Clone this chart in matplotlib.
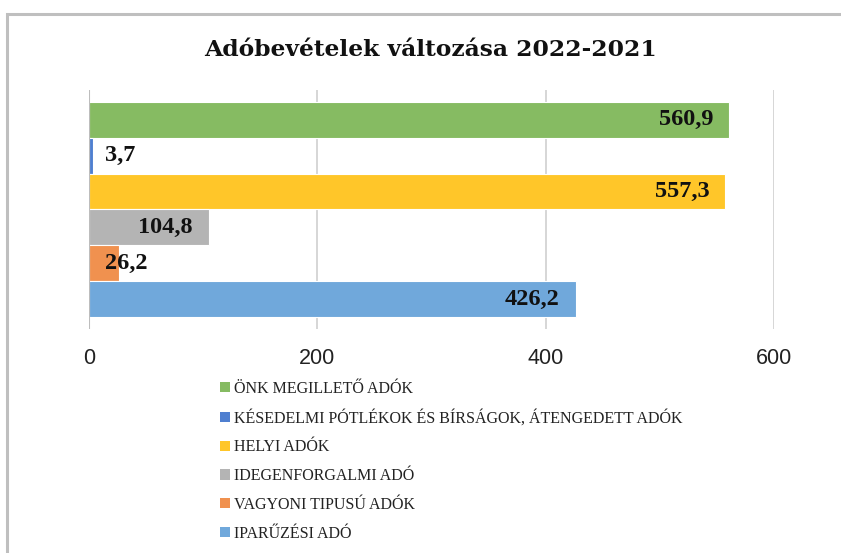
import matplotlib.pyplot as plt
from matplotlib.patches import Rectangle, Patch

categories = ['ÖNK MEGILLETŐ ADÓK',
              'KÉSEDELMI PÓTLÉKOK ÉS BÍRSÁGOK, ÁTENGEDETT ADÓK',
              'HELYI ADÓK',
              'IDEGENFORGALMI ADÓ',
              'VAGYONI TIPUSÚ ADÓK',
              'IPARŰZÉSI ADÓ']
values = [560.9, 3.7, 557.3, 104.8, 26.2, 426.2]
colors = ['#86BB62', '#4F7FD0', '#FFC629', '#B4B4B4', '#F0914F', '#70A8DB']

fig = plt.figure(figsize=(8.41, 5.53), dpi=100)
# chart frame
fig.patches.append(Rectangle((7/841, -0.1), 1.1, 1 - 14/553 + 0.1, transform=fig.transFigure,
                             fill=False, edgecolor='#BFBFBF', linewidth=2.2))

ax = fig.add_axes([89/841, 1 - 329/553, (774 - 89)/841, (329 - 90)/553])
n = len(values)
ys = [n - 1 - i for i in range(n)]
ax.barh(ys, values, height=1.0, color=colors, edgecolor='white', linewidth=0.8, zorder=3)

ax.set_xlim(0, 600)
ax.set_ylim(-0.5 - 0.33, n - 0.5 + 0.33)
ax.set_xticks([0, 200, 400, 600])
ax.set_yticks([])
ax.xaxis.grid(True, color='#D0D0D0', linewidth=1.2, zorder=0)
for s in ax.spines.values():
    s.set_visible(False)
ax.axvline(0, color='#BDBDBD', linewidth=1.5, zorder=4)
ax.tick_params(axis='x', length=0, pad=14, labelsize=15.5, labelcolor='#222222')
for lab in ax.get_xticklabels():
    lab.set_family('Liberation Sans')

serif_bold = dict(family='Liberation Serif', fontweight='bold', color='#111111')
for y, v in zip(ys, values):
    txt = f'{v:.1f}'.replace('.', ',')
    if v > 60:
        ax.annotate(txt, (v, y), xytext=(-11.5, 0), textcoords='offset points',
                    ha='right', va='center', fontsize=17.5, zorder=5, **serif_bold)
    else:
        ax.annotate(txt, (0, y), xytext=(11.5, 0), textcoords='offset points',
                    ha='left', va='center', fontsize=17.5, zorder=5, **serif_bold)

fig.text(430/841, 1 - 50/553, 'Adóbevételek változása 2022-2021', ha='center', va='center',
         fontsize=16.8, family='DejaVu Serif', fontweight='bold', color='#111111')

handles = [Patch(facecolor=c, edgecolor='none') for c in colors]
fig.legend(handles, categories, loc='upper left', bbox_to_anchor=(212/841, 1 - 373/553),
           frameon=False, prop={'family': 'Liberation Serif', 'size': 11.5},
           handlelength=0.6, handleheight=0.6, handletextpad=0.3, labelspacing=0.8,
           borderpad=0, labelcolor='#222222')

fig.savefig('out.png', dpi=100)
